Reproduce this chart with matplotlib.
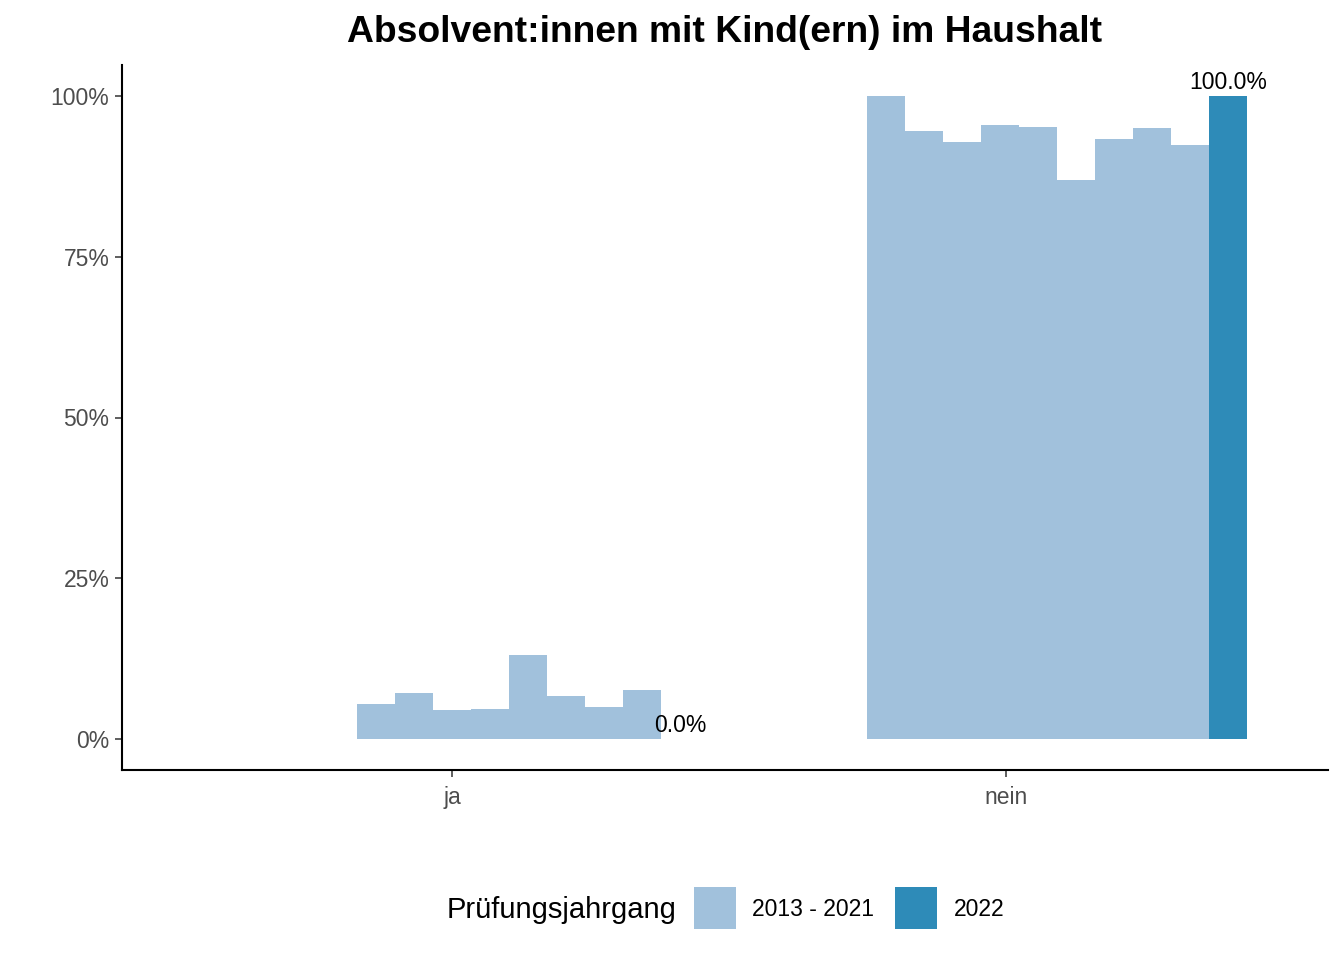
import matplotlib
matplotlib.use("Agg")
import matplotlib.pyplot as plt
from matplotlib.patches import Rectangle

plt.rcParams['font.family'] = ['Liberation Sans', 'DejaVu Sans']

# ---- data ----
categories = ["ja", "nein"]
series_names = ["2013 - 2021", "2022"]
years_hist = [2013, 2014, 2015, 2016, 2017, 2018, 2019, 2020, 2021]
# share (%) per year 2013-2021; None = no bar
ja_hist = [None, 5.4, 7.2, 4.5, 4.7, 13.1, 6.7, 5.0, 7.6]
nein_hist = [100.0, 94.6, 92.8, 95.5, 95.2, 86.9, 93.3, 95.0, 92.4]
ja_2022 = 0.0
nein_2022 = 100.0
hist_values = {"ja": ja_hist, "nein": nein_hist}
current_values = {"ja": ja_2022, "nein": nein_2022}

# ---- style / layout ----
c_hist = "#A1C1DC"
c_cur = "#2E8BB8"
W, H = 1344, 960
px_unit = 554.0
bar_w = 38.0 / px_unit
group_start = {"ja": (357 - 452) / px_unit - bar_w, "nein": (867 - 1006) / px_unit}

fig = plt.figure(figsize=(W / 100, H / 100), dpi=100)
ax = fig.add_axes([122 / W, (960 - 770) / H, (1328 - 122) / W, (770 - 65) / H])

for ci, cat in enumerate(categories):
    x0 = ci + 1 + group_start[cat]
    vals = hist_values[cat]
    for i, v in enumerate(vals):
        if v is None:
            continue
        ax.bar(x0 + i * bar_w, v, width=bar_w, align="edge", color=c_hist, linewidth=0)
    xc = x0 + len(vals) * bar_w
    v = current_values[cat]
    ax.bar(xc, v, width=bar_w, align="edge", color=c_cur, linewidth=0)
    ax.annotate(f"{v:.1f}%", (xc + bar_w / 2, v), xytext=(0, 1.5), textcoords="offset points",
                ha="center", va="bottom", fontsize=16.5, color="black")

ax.set_xlim(1 - 330 / px_unit, 2 + 322 / px_unit)
ax.set_ylim(-31 / 6.43, 100 + 31 / 6.43)
ax.set_xticks([1, 2])
ax.set_xticklabels(categories)
ax.set_yticks([0, 25, 50, 75, 100])
ax.set_yticklabels(["0%", "25%", "50%", "75%", "100%"])
ax.tick_params(axis="both", labelsize=16.5, labelcolor="#4D4D4D", color="#333333",
               length=5, width=1.1)
ax.tick_params(axis="x", pad=6.5)
ax.tick_params(axis="y", pad=4)
for s in ["top", "right"]:
    ax.spines[s].set_linewidth(0)
    ax.spines[s].set_visible(False)
for s in ["left", "bottom"]:
    ax.spines[s].set_linewidth(1.5)
    ax.spines[s].set_color("black")

fig.text(725 / W, 1 - 32 / H, "Absolvent:innen mit Kind(ern) im Haushalt",
         ha="center", va="center", fontsize=26.8, fontweight="bold")

# legend
fig.text(447 / W, 1 - 910 / H, "Prüfungsjahrgang", ha="left", va="center", fontsize=21)
keys = [(694, c_hist, 752), (895, c_cur, 954)]
for (kx, col, tx), name in zip(keys, series_names):
    fig.patches.append(Rectangle((kx / W, 1 - 929 / H), 42 / W, 42 / H,
                                 transform=fig.transFigure, color=col, linewidth=0))
    fig.text(tx / W, 1 - 910 / H, name, ha="left", va="center", fontsize=16.5)

fig.savefig("out.png", dpi=100)
